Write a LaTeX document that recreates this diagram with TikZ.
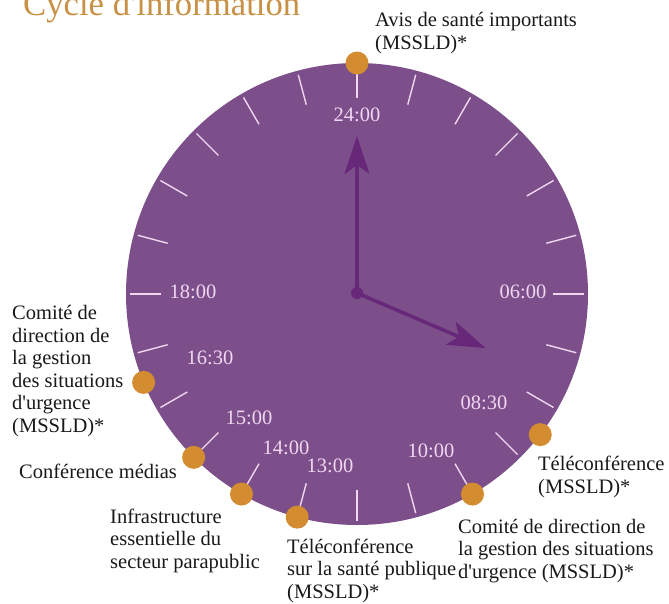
\documentclass[tikz,border=0pt]{standalone}
\usepackage{fontspec}
\setmainfont{Liberation Serif}[Ligatures=TeXOff]
\usetikzlibrary{arrows.meta,calc}
\definecolor{clockfill}{RGB}{124,79,139}
\definecolor{handpurple}{RGB}{104,40,122}
\definecolor{dotorange}{RGB}{212,140,48}
\definecolor{lightpink}{RGB}{240,215,240}
\definecolor{titlegold}{RGB}{200,145,70}
\definecolor{labeltext}{RGB}{25,25,25}
\begin{document}
\begin{tikzpicture}[x=1pt,y=-1pt,
  lbl/.style={anchor=base west, align=left, inner sep=0pt, font=\fontsize{20.5}{22.5}\selectfont, text=labeltext},
  hourlbl/.style={inner sep=0pt, font=\fontsize{20.5}{22.5}\selectfont, text=lightpink},
  event/.style={circle, fill=dotorange, minimum size=23pt, inner sep=0pt},
  ticklne/.style={draw=lightpink, line width=1.4pt},
  hand/.style={draw=handpurple, line width=3.5pt, -{Stealth[length=38pt,width=25pt,inset=9pt]}}
]
\useasboundingbox (0,0) rectangle (669,604);
\fill[white] (0,0) rectangle (669,604);
% title
\node[anchor=base west, inner sep=0pt, font=\fontsize{34.7}{40}\selectfont, text=titlegold] (title) at (23,16) {Cycle d'information};
% clock face
\coordinate (C) at (357,294);
\fill[clockfill] (C) circle[radius=231pt];
\foreach \k in {0,...,23}{
  \draw[ticklne] ($(C)+(\k*15:196pt)$) -- ($(C)+(\k*15:227pt)$);
}
% event dots
\node[event] (d2400) at ($(C)+(90:231pt)$) {};
\node[event] (d0830) at ($(C)+(-37.5:231pt)$) {};
\node[event] (d1000) at ($(C)+(-60:231pt)$) {};
\node[event] (d1300) at ($(C)+(-105:231pt)$) {};
\node[event] (d1400) at ($(C)+(-120:231pt)$) {};
\node[event] (d1500) at ($(C)+(-135:231pt)$) {};
\node[event] (d1630) at ($(C)+(202.5:231pt)$) {};
% hour labels
\node[hourlbl] (h2400) at (357,115) {24:00};
\node[hourlbl] (h1800) at (193,292) {18:00};
\node[hourlbl] (h0600) at (523,292) {06:00};
\node[hourlbl] (h1630) at (210,358) {16:30};
\node[hourlbl] (h1500) at (249,418) {15:00};
\node[hourlbl] (h1400) at (286,448) {14:00};
\node[hourlbl] (h1300) at (330,466) {13:00};
\node[hourlbl] (h1000) at (431,451) {10:00};
\node[hourlbl] (h0830) at (484,403) {08:30};
% hands
\node[circle, fill=handpurple, minimum size=12pt, inner sep=0pt] (hub) at (357,293) {};
\coordinate (tipA) at ($(hub)+(90:157pt)$);
\coordinate (tipB) at ($(hub)+(-23.2:140pt)$);
\draw[hand] (hub.center) -- (tipA);
\draw[hand] (hub.center) -- (tipB);
% event labels (base = baseline of last line)
\node[lbl] (lavis) at (375,49.5) {Avis de santé importants\\(MSSLD)*};
\node[lbl] (ltele1) at (538,493) {Téléconférence\\(MSSLD)*};
\node[lbl] (lcomite2) at (458,578) {Comité de direction de\\la gestion des situations\\d'urgence (MSSLD)*};
\node[lbl] (ltele2) at (287,598) {Téléconférence\\sur la santé publique\\(MSSLD)*};
\node[lbl] (linfra) at (110,568) {Infrastructure\\essentielle du\\secteur parapublic};
\node[lbl] (lmedias) at (19,478) {Conférence médias};
\node[lbl] (lcomite1) at (12,432) {Comité de\\direction de\\la gestion\\des situations\\d'urgence\\(MSSLD)*};
\end{tikzpicture}
\end{document}
